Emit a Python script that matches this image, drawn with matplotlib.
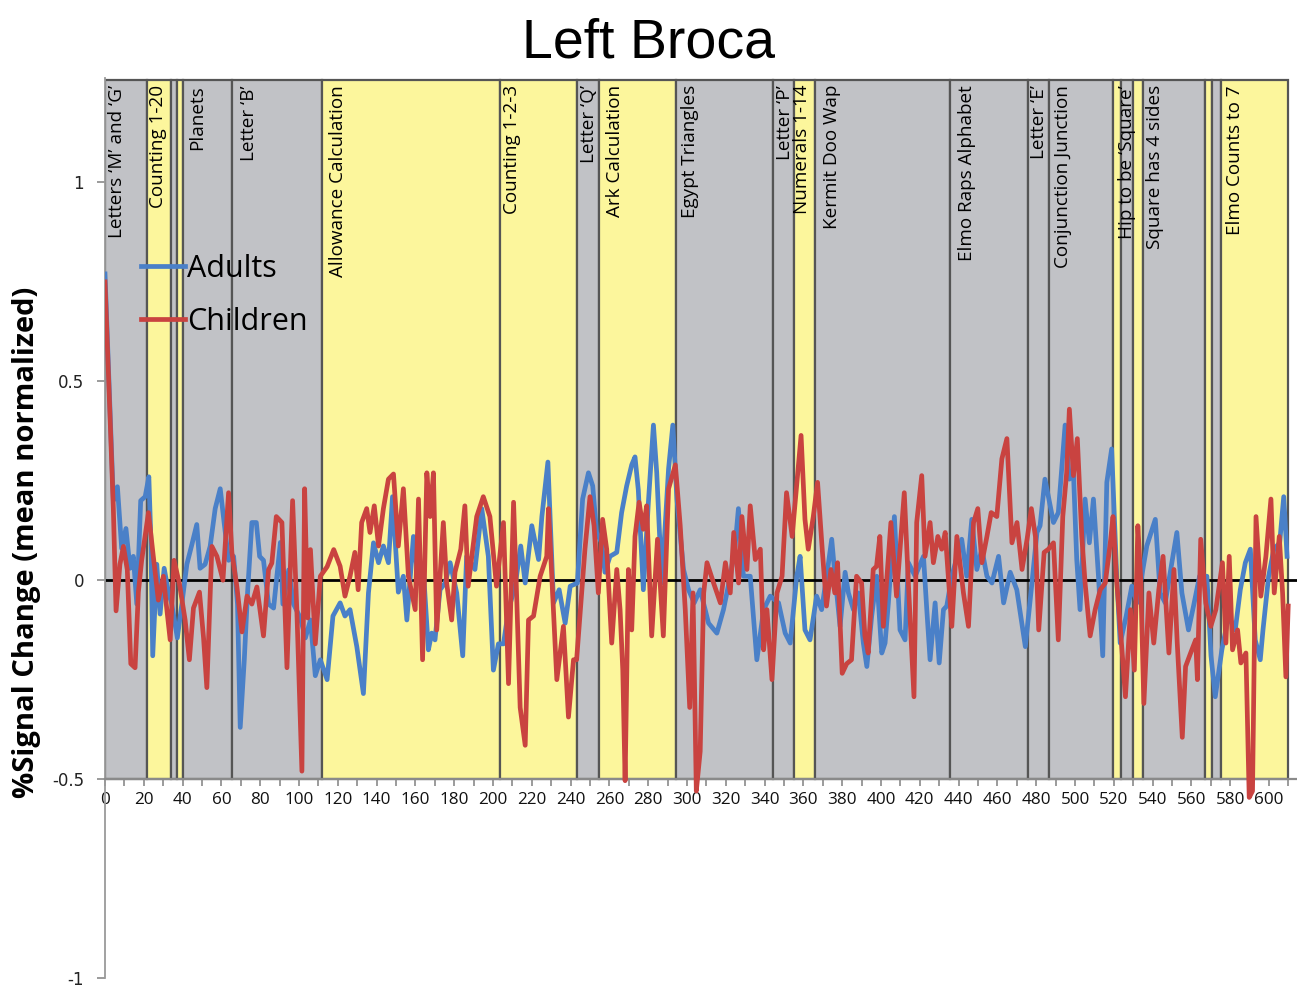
import matplotlib
matplotlib.use("Agg")
import matplotlib.pyplot as plt
from matplotlib.ticker import MultipleLocator
from matplotlib.lines import Line2D

# ---------------- data ----------------
band_start = [0, 21.6, 34.0, 37.1, 40.2, 65.5, 111.9, 203.6, 243.3, 254.6, 294.3, 344.3,
              355.2, 366.0, 435.6, 475.8, 486.6, 519.6, 523.7, 529.9, 535.0, 567.0, 570.6, 575.5]
band_end = [21.6, 34.0, 37.1, 40.2, 65.5, 111.9, 203.6, 243.3, 254.6, 294.3, 344.3, 355.2,
            366.0, 435.6, 475.8, 486.6, 519.6, 523.7, 529.9, 535.0, 567.0, 570.6, 575.5, 609.8]
band_kind = ["g", "y", "g", "y", "g", "g", "y", "y", "g", "y", "g", "g",
             "y", "g", "g", "g", "g", "y", "g", "y", "g", "y", "g", "y"]

segment_labels = ["Letters \u2018M\u2019 and \u2018G\u2019", "Counting 1-20", "Planets", "Letter \u2018B\u2019",
                  "Allowance Calculation", "Counting 1-2-3", "Letter \u2018Q\u2019", "Ark Calculation",
                  "Egypt Triangles", "Letter \u2018P\u2019", "Numerals 1-14", "Kermit Doo Wap",
                  "Elmo Raps Alphabet", "Letter \u2018E\u2019", "Conjunction Junction",
                  "Hip to be \u2018Square\u2019", "Square has 4 sides", "Elmo Counts to 7"]
segment_label_x = [6.2, 27.3, 47.4, 74.2, 120.1, 209.8, 249.5, 262.9, 301.5, 350.5, 359.3,
                   374.7, 444.3, 481.4, 493.8, 526.8, 541.2, 582.5]

adults_x = [0, 4.3, 6.4, 8.6, 10.8, 12.9, 14.6, 16.4, 18.4, 20.7, 22.6, 23.6, 24.6, 26.7, 28.4,
            30.5, 32.7, 34.4, 37.3, 39.6, 42.2, 44.8, 47.3, 49, 51.6, 54.2, 56.8, 59.4, 61.4,
            63.7, 66.3, 68.3, 69.7, 71.8, 73.5, 75.7, 78, 79.7, 81.7, 84.3, 86.9, 90.4, 91.7,
            94.7, 97.2, 100.7, 103.3, 105.9, 108.4, 111, 114.5, 117.5,
            121.2, 123.7, 126.3, 129.8, 133.2, 135.8, 138.4, 141, 143.5, 146.1, 148.2, 151.2,
            153.8, 155.6, 159, 161.6, 164.1, 166.7, 168.4, 170.1, 172.7, 175.3, 177.9, 181.3,
            184.4, 186.4, 190.7, 194.2, 197.6, 200.2, 202.8, 205.4, 208, 211.4, 214.3, 216.6,
            220, 223.5, 225.2, 228.3, 231.2, 234.1, 237.2, 239.8,
            243.5, 246.2, 249.2, 251.4, 253.4, 256, 257.7, 260.3, 263.8, 266.3, 268.9, 271.5,
            273.2, 274.9, 277.5, 280.1, 282.7, 284.4, 287, 290.5, 292.7, 294.8, 298.2, 300.8,
            303.7, 306.8, 311.1, 315.4, 318.8, 322.3, 324.8, 326.5, 329.1, 332.6, 336, 339.5,
            342.9, 347.2, 350.6, 353.2, 356.6, 358.3, 360.8,
            363.4, 366.8, 369.4, 372, 374.6, 376.3, 378.9, 381.5, 383.2, 385.8, 388.3, 390.9,
            392.7, 395.2, 397.8, 400.4, 402.1, 403.8, 406.9, 409.8, 412.4, 414.1, 417.6, 421.9,
            423.6, 425.3, 427.9, 430, 432.2, 433.9, 436.5, 441.6, 444.2, 446.8, 449.4, 452,
            454.6, 457.2, 460.6, 463.2, 466.6, 470, 474.4, 477.8, 480.4,
            482, 484.5, 486.3, 488.9, 491.4, 494.9, 497.1, 499.2, 500.9, 502.6, 505.2, 507.4,
            509.5, 512.1, 514.3, 516.4, 518.9, 521.5, 523.3, 526.4, 529.3, 531.9, 534.4, 537,
            541.4, 543.9, 546.5, 549.9, 552.5, 555.1, 558.5, 561.1, 564.2, 568, 570.1, 572.3,
            575.7, 579.2, 582.6, 585.2, 587.8, 590.4, 592.9, 595.5, 596.9, 599.8, 602.5, 605.5,
            607.6, 609.3]
adults_y = [0.77, 0.20, 0.235, 0.08, 0.13, 0.03, 0.06, -0.06, 0.20, 0.21, 0.26, 0.11, -0.19, 0.04,
            -0.085, 0.03, -0.03, -0.06, -0.145, -0.06, 0.04, 0.09, 0.14, 0.03, 0.04, 0.085, 0.18,
            0.23, 0.145, 0.05, 0.06, -0.06, -0.37, -0.20, -0.03, 0.145, 0.145, 0.06, 0.05, -0.06,
            -0.07, 0.095, -0.06, 0.026, -0.06, -0.095, -0.145, -0.10, -0.24, -0.20, -0.25, -0.09,
            -0.057, -0.09, -0.074, -0.167, -0.285, -0.032, 0.094, 0.044, 0.086, 0.044, 0.21, -0.03,
            0.01, -0.10, 0.11, -0.007, 0.027, -0.175, -0.133, -0.15, -0.024, -0.007, 0.044, -0.032,
            -0.19, 0.06, 0.027, 0.18, 0.06, -0.226, -0.16, -0.16, -0.074, -0.015, 0.086, -0.007,
            0.137, 0.052, 0.16, 0.297, -0.057, -0.024, -0.108, -0.015,
            -0.007, 0.204, 0.27, 0.237, 0.12, 0.094, 0.02, 0.06, 0.07, 0.17, 0.237, 0.29,
            0.31, 0.227, -0.024, 0.196, 0.39, 0.27, -0.007, 0.28, 0.39, 0.204, 0.027, -0.024,
            -0.057, -0.024, -0.108, -0.133, -0.074, 0.01, 0.086, 0.18, 0.01, 0.01, -0.20, -0.074,
            -0.04, -0.057, -0.133, -0.158, 0.01, 0.06, -0.125,
            -0.15, -0.04, -0.074, 0.01, 0.103, 0.01, -0.116, 0.02, -0.032, -0.074, -0.032, -0.158,
            -0.217, -0.09, 0.01, -0.183, -0.158, -0.057, 0.16, -0.125, -0.15, 0.044, 0.01, 0.06,
            -0.074, -0.20, -0.057, -0.208, -0.074, -0.065, 0.01, 0.103, 0.01, 0.153, 0.027, 0.078,
            0.01, -0.007, 0.06, -0.057, 0.02, -0.024, -0.167, -0.007, 0.12,
            0.137, 0.254, 0.21, 0.145, 0.17, 0.39, 0.254, 0.27, 0.052, -0.074, 0.204, 0.094,
            0.204, 0.01, -0.19, 0.246, 0.33, 0.01, -0.158, -0.09, -0.015, -0.057, 0.01, 0.086,
            0.153, -0.032, -0.057, 0.044, 0.12, -0.032, -0.125, -0.065, 0.01, 0.01, -0.19, -0.293,
            -0.175, -0.09, -0.125, -0.024, 0.044, 0.078, -0.15, -0.20, -0.125, 0.01, 0.078, 0.094,
            0.21, 0.06]

children_x = [0, 2.6, 4.3, 5.7, 7.7, 9.5, 11.5, 13.3, 15.5, 17.2, 18.9, 22.4, 24.9, 27.5, 30.1,
              31.8, 33.6, 35.6, 38.4, 41.3, 43.5, 45.6, 48.7, 50.8, 52.5, 55.1, 57.7, 60.8, 63.7,
              65.4, 68, 70.6, 73.2, 75.7, 78.3, 81.7, 84.3, 86, 88.3, 91.2, 93.8, 96.7, 98.9,
              101.5, 102.9, 104.5, 105.9, 108.4, 111, 114.5, 117.9,
              121.2, 123.7, 126.3, 128.8, 130.5, 132.3, 134.9, 136.6, 138.8, 141, 143.5, 146.1,
              148.7, 151.2, 153.8, 156.4, 159.9, 161.6, 163.7, 165.9, 167.6, 169.3, 171, 174.4,
              176.1, 178.7, 180.4, 183.4, 185.5, 187.2, 191.6, 195, 198.4, 201.8, 205.4, 208,
              210.6, 212.3, 214, 216.6, 218.3, 220.9, 224.3, 227.7, 228.6, 232.9, 236.3, 238.9,
              241.5, 243.1, 245.7, 247.4, 250, 252.1, 254.3, 256.5, 258.6, 261.2, 263.8, 265.5,
              266.9, 268.1, 269.8, 271.5, 273.2, 275.3, 277.5, 279.2, 281.8, 284.8, 287.8, 290.5,
              294, 296.5, 299.1, 301.4, 303.1, 304.8, 306.8, 308.6, 310.3, 313.7, 317.2, 319.8,
              322.3, 324.1, 326.6, 328.3, 330.9, 332.6, 335.2, 337.8, 339.5, 341.2, 343.8, 346.4,
              349, 351.3, 354.2, 356.8, 358.8,
              360.8, 362.5, 365.1, 367.3, 369.7, 371.9, 374.2, 376.2, 377.6, 380, 382.3, 384.8,
              387.4, 390, 391.7, 393.4, 396, 397.7, 399.4, 401.2, 405.1, 408, 412, 414.1, 417,
              418.4, 421, 422.7, 425.3, 427, 429.3, 431.3, 433.1, 436.5, 439.1, 442.5, 445.1,
              447.7, 449.9, 452, 454.6, 456.8, 459.7, 462.3, 464.9, 467.5, 470.1, 472.7, 475.3,
              477.5, 479.6, 481.3,
              484.1, 486.3, 488.9, 491.4, 493.7, 495.7, 497.1, 499.2, 501.2, 503.5, 505.2, 507.8,
              510.4, 513, 515.6, 518.2, 519.6, 521.3, 523.3, 526, 528.6, 530.6, 532.4, 533.8,
              535.5, 538.1, 540.6, 543.2, 545.4, 548.4, 551, 552.7, 555.3, 557, 559.6, 562.2,
              563.1, 564.8, 567.4, 570, 572.6, 576, 577.8, 579.5, 581.2, 583.8, 585.5, 588.1,
              589.8, 591.5, 593.3, 595.8, 598.4, 601, 602.7, 605.3, 607, 608.7, 609.9]
children_y = [0.75, 0.41, 0.18, -0.077, 0.04, 0.085, 0.026, -0.21, -0.22, -0.03, 0.05, 0.17, 0.06,
              -0.05, 0.01, -0.07, -0.15, 0.05, -0.01, -0.10, -0.20, -0.07, -0.03, -0.145, -0.27,
              0.085, 0.06, 0.0, 0.22, 0.07, -0.017, -0.13, -0.04, -0.06, -0.017, -0.14, 0.026,
              0.043, 0.16, 0.145, -0.22, 0.20, -0.077, -0.48, 0.23, -0.095, 0.077, -0.16, 0.01,
              0.034, 0.077,
              0.035, -0.04, 0.01, 0.07, -0.024, 0.145, 0.18, 0.12, 0.187, 0.086, 0.18, 0.254,
              0.267, 0.086, 0.23, 0.01, -0.074, 0.204, -0.20, 0.27, 0.16, 0.27, -0.125, 0.145,
              -0.007, -0.10, 0.02, 0.078, 0.187, -0.015, 0.16, 0.21, 0.16, -0.015, 0.145, -0.26,
              0.196, -0.057, -0.32, -0.415, -0.10, -0.09, 0.01, 0.06, 0.18, -0.25, -0.116, -0.344,
              -0.20, -0.20, -0.032, 0.078, 0.21, 0.137, -0.032, 0.153, 0.078, -0.158, 0.027, -0.074,
              -0.226, -0.504, 0.027, -0.125, 0.11, 0.196, 0.128, 0.187, -0.14, 0.103, -0.14, 0.23,
              0.29, 0.137, -0.074, -0.32, -0.032, -0.53, -0.43, -0.032, 0.044, -0.007, -0.057, 0.044,
              -0.032, 0.12, -0.007, 0.16, 0.027, 0.187, 0.052, 0.078, -0.175, -0.074, -0.25, -0.032,
              0.01, 0.22, 0.11, 0.254, 0.364,
              0.153, 0.078, 0.16, 0.246, 0.078, -0.065, 0.027, -0.032, 0.044, -0.234, -0.21, -0.20,
              0.01, -0.007, -0.14, -0.183, 0.027, 0.035, 0.11, -0.116, 0.145, -0.04, 0.22, -0.007,
              -0.293, 0.145, 0.263, 0.06, 0.145, 0.044, 0.11, 0.078, 0.12, -0.116, 0.11, -0.032,
              -0.116, 0.145, 0.18, 0.044, 0.11, 0.17, 0.16, 0.305, 0.356, 0.094, 0.145, 0.027,
              0.103, 0.18, 0.11, -0.125,
              0.07, 0.078, 0.094, -0.15, 0.16, 0.27, 0.43, 0.263, 0.356, 0.11, -0.007, -0.14,
              -0.074, -0.024, -0.007, 0.094, 0.16, 0.01, -0.116, -0.293, -0.074, -0.226, 0.137, 0.01,
              -0.31, -0.032, -0.158, -0.024, 0.06, -0.183, 0.027, -0.158, -0.395, -0.217, -0.183, -0.15,
              -0.25, 0.103, -0.057, -0.116, -0.074, 0.044, -0.158, 0.06, -0.175, -0.125, -0.208, -0.183,
              -0.546, -0.53, 0.16, -0.04, 0.06, 0.204, -0.032, 0.11, -0.032, -0.243, -0.065]

series_names = ["Adults", "Children"]
title_text = "Left Broca"
ylabel_text = "%Signal Change (mean normalized)"

# ---------------- styling ----------------
W, H = 1297, 988
BLUE = "#4a80c8"
RED = "#c94340"
GREY = "#c1c2c6"
YELLOW = "#fcf69c"
band_top = 1.2575

fig = plt.figure(figsize=(W / 100, H / 100), dpi=100)
ax = fig.add_axes([105 / W, 10 / H, (W - 105) / W, (978 - 78) / H])
ax.set_xlim(0, (W - 105) / 1.94)
ax.set_ylim(-1, 1.2625)

colors = [GREY if k == "g" else YELLOW for k in band_kind]
widths = [e - s for s, e in zip(band_start, band_end)]
ax.bar(band_start, [band_top + 0.5] * len(band_start), width=widths, bottom=-0.5,
       align="edge", color=colors, edgecolor="#555555", linewidth=1.6, zorder=1)

ax.axhline(0, color="black", lw=2, zorder=2)

ax.plot(adults_x, adults_y, color=BLUE, lw=3.4, zorder=3, solid_joinstyle="round")
ax.plot(children_x, children_y, color=RED, lw=3.4, zorder=3.1, solid_joinstyle="round")

for lab, lx in zip(segment_labels, segment_label_x):
    ax.text(lx, 1.245, lab, rotation=90, ha="center", va="top", fontsize=13.6,
            family="Open Sans", color="black", zorder=5)

# spines / ticks
for s in ["top", "right"]:
    ax.spines[s].set_visible(False)
ax.spines["left"].set_color("#9a9a9a")
ax.spines["left"].set_linewidth(1.3)
ax.spines["bottom"].set_position(("data", -0.5))
ax.spines["bottom"].set_color("#8a8a8a")
ax.spines["bottom"].set_linewidth(1.6)
ax.spines["bottom"].set_zorder(2.5)

ax.set_xticks(range(0, 601, 20))
ax.xaxis.set_minor_locator(MultipleLocator(10))
ax.tick_params(axis="x", which="both", direction="out", length=5, color="#8a8a8a", width=1.2)
ax.tick_params(axis="x", which="major", pad=4, labelsize=12.3, labelcolor="#111111")
for t in ax.get_xticklabels():
    t.set_family("Open Sans")

ax.set_yticks([-1, -0.5, 0, 0.5, 1])
ax.set_yticklabels(["-1", "-0.5", "0", "0.5", "1"])
ax.tick_params(axis="y", direction="out", length=6, color="#8a8a8a", width=1.2, pad=9,
               labelsize=12, labelcolor="#222222")
for t in ax.get_yticklabels():
    t.set_family("DejaVu Sans")

# legend
handles = [Line2D([], [], color=BLUE, lw=3.4), Line2D([], [], color=RED, lw=3.4)]
fig.legend(handles, series_names, loc="upper left", bbox_to_anchor=(141 / W, 1 - 254 / H),
           frameon=False, handlelength=1.45, handletextpad=0.05,
           labelspacing=0.75, borderpad=0, borderaxespad=0, prop={"family": "Open Sans", "size": 22})

fig.text(0.5, 1 - 58 / H, title_text, ha="center", va="baseline", fontsize=40,
         family="Liberation Sans")
fig.text(27 / W, 1 - 542 / H, ylabel_text, rotation=90, ha="center", va="center",
         fontsize=21, fontweight="bold", family="Open Sans")

fig.savefig("out.png", dpi=100)
